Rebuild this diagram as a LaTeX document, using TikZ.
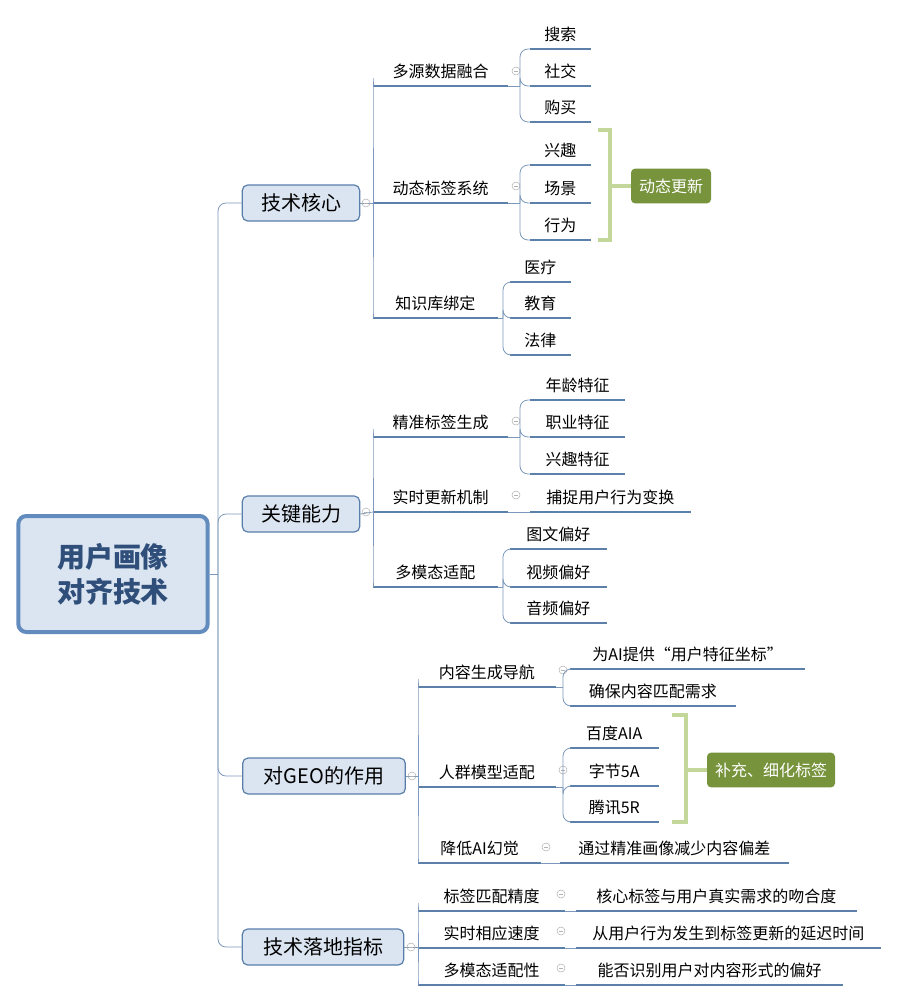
\documentclass[tikz,border=0pt]{standalone}
\usepackage{fontspec}
\setmainfont{Noto Sans CJK SC}
\usetikzlibrary{calc,positioning}
\definecolor{linie}{RGB}{91,128,170}
\definecolor{kasten}{RGB}{219,229,241}
\definecolor{rand}{RGB}{99,140,190}
\definecolor{titel}{RGB}{47,79,122}
\definecolor{klammer}{RGB}{196,215,155}
\definecolor{marke}{RGB}{119,147,60}
\tikzset{
  root/.style={draw=rand,line width=3pt,fill=kasten,rounded corners=6pt,minimum width=142pt,minimum height=87pt,align=center,font=\fontsize{21}{26}\selectfont\bfseries,text=titel},
  main/.style={draw=rand!90!black,line width=0.9pt,fill=kasten,rounded corners=4pt,minimum height=27pt,inner xsep=8pt,font=\fontsize{15}{18}\selectfont},
  sub/.style={anchor=south west,minimum width=#1,inner xsep=2.5pt,inner ysep=5pt,font=\fontsize{12}{14}\selectfont,
    append after command={(\tikzlastnode.south west) edge[uline] (\tikzlastnode.south east)}},
  uline/.style={draw=linie,line width=1.6pt},
  link/.style={draw=linie!80,line width=0.6pt,rounded corners=6pt},
  fold/.style={circle,draw=gray!60,inner sep=0pt,minimum size=6pt,
    path picture={\draw[gray!60,line width=0.4pt] ([xshift=-1.5pt]path picture bounding box.center) -- ([xshift=1.5pt]path picture bounding box.center);}},
  tag/.style={fill=marke,text=white,rounded corners=3pt,minimum height=26pt,inner xsep=6pt,font=\fontsize{12}{14}\selectfont},
  brace/.style={draw=klammer,line width=2.6pt},
}
\begin{document}
\begin{tikzpicture}[x=0.75pt,y=-0.75pt]
	\useasboundingbox (0,0) rectangle (906,1001);
	% root and branches
	\node[root] (R) at (113,574) {用户画像\\对齐技术};
	\node[main,minimum width=88pt] (B1) at (301,203) {技术核心};
	\node[main,minimum width=88pt] (B2) at (301,514) {关键能力};
	\node[main,minimum width=122pt] (B3) at (324,776) {对GEO的作用};
	\node[main,minimum width=121pt] (B4) at (323,947) {技术落地指标};
	\coordinate (T) at (218,574);
	\draw[link] (R.east) -- (T);
	\foreach \b in {B1,B2,B3,B4} \draw[link] (T) |- (\b.west);
	% 技术核心
	\node[sub=101pt] (K1) at (373,86) {多源数据融合};
	\node[sub=101pt] (K2) at (373,203) {动态标签系统};
	\node[sub=93pt] (K3) at (373,318) {知识库绑定};
	\coordinate (S1) at (373,203);
	\draw[link] (B1.east) -- (S1);
	\foreach \k in {K1,K3} \draw[link] (S1) |- (\k.south west);
	\node[fold] at (366,203) {};
	\node[fold] at (516,71) {};
	\node[fold] at (516,186) {};
	\node[sub=45pt] (K11) at (530,49) {搜索};
	\node[sub=45pt] (K12) at (530,86) {社交};
	\node[sub=45pt] (K13) at (530,122) {购买};
	\node[sub=45pt] (K21) at (530,165) {兴趣};
	\node[sub=45pt] (K22) at (530,203) {场景};
	\node[sub=45pt] (K23) at (530,240) {行为};
	\node[sub=45pt] (K31) at (510,282) {医疗};
	\node[sub=45pt] (K32) at (510,318) {教育};
	\node[sub=45pt] (K33) at (510,355) {法律};
	\coordinate (S11) at (520,86);
	\coordinate (S12) at (520,203);
	\coordinate (S13) at (503,318);
	\draw[link] (K1.south east) -- (S11);
	\draw[link] (K2.south east) -- (S12);
	\draw[link] (K3.south east) -- (S13);
	\foreach \c in {K11,K12,K13} \draw[link] (S11) |- (\c.south west);
	\foreach \c in {K21,K22,K23} \draw[link] (S12) |- (\c.south west);
	\foreach \c in {K31,K32,K33} \draw[link] (S13) |- (\c.south west);
	\node[tag] (G1) at (671,186) {动态更新};
	\draw[brace] (598,130) -- (610,130) -- (610,240) -- (598,240);
	\draw[brace] (610,186) -- (G1.west);
	% 关键能力
	\node[sub=101pt] (L1) at (373,437) {精准标签生成};
	\node[sub=101pt] (L2) at (373,512) {实时更新机制};
	\node[sub=93pt] (L3) at (373,587) {多模态适配};
	\coordinate (S2) at (373,512);
	\draw[link] (B2.east) -- (S2);
	\foreach \k in {L1,L3} \draw[link] (S2) |- (\k.south west);
	\node[fold] at (366,512) {};
	\node[fold] at (516,421) {};
	\node[fold] at (516,495) {};
	\node[sub=71pt] (L11) at (530,400) {年龄特征};
	\node[sub=71pt] (L12) at (530,437) {职业特征};
	\node[sub=71pt] (L13) at (530,474) {兴趣特征};
	\node[sub=120pt] (L21) at (530,512) {捕捉用户行为变换};
	\node[sub=72pt] (L31) at (510,549) {图文偏好};
	\node[sub=72pt] (L32) at (510,587) {视频偏好};
	\node[sub=72pt] (L33) at (510,623) {音频偏好};
	\coordinate (S21) at (520,437);
	\coordinate (S23) at (503,587);
	\draw[link] (L1.south east) -- (S21);
	\draw[link] (L2.south east) -- (L21.south west);
	\draw[link] (L3.south east) -- (S23);
	\foreach \c in {L11,L12,L13} \draw[link] (S21) |- (\c.south west);
	\foreach \c in {L31,L32,L33} \draw[link] (S23) |- (\c.south west);
	% 对GEO的作用
	\node[sub=103pt] (M1) at (418,687) {内容生成导航};
	\node[sub=103pt] (M2) at (418,787) {人群模型适配};
	\node[sub=92pt] (M3) at (418,863) {降低AI幻觉};
	\coordinate (S3) at (418,776);
	\draw[link] (B3.east) -- (S3);
	\foreach \k in {M1,M2,M3} \draw[link] (S3) |- (\k.south west);
	\node[fold] at (412,776) {};
	\node[fold] at (563,670) {};
	\node[fold] at (563,770) {};
	\node[fold] at (546,847) {};
	\node[sub=176pt] (M11) at (570,669) {为AI提供“用户特征坐标”};
	\node[sub=124pt] (M12) at (570,706) {确保内容匹配需求};
	\node[sub=66pt] (M21) at (570,748) {百度AIA};
	\node[sub=66pt] (M22) at (570,786) {字节5A};
	\node[sub=66pt] (M23) at (570,822) {腾讯5R};
	\node[sub=171pt] (M31) at (560,863) {通过精准画像减少内容偏差};
	\coordinate (S31) at (563,687);
	\coordinate (S32) at (563,787);
	\draw[link] (M1.south east) -- (S31);
	\draw[link] (M2.south east) -- (S32);
	\draw[link] (M3.south east) -- (M31.south west);
	\foreach \c in {M11,M12} \draw[link] (S31) |- (\c.south west);
	\foreach \c in {M21,M22,M23} \draw[link] (S32) |- (\c.south west);
	\node[tag] (G2) at (771,770) {补充、细化标签};
	\draw[brace] (672,715) -- (686,715) -- (686,822) -- (672,822);
	\draw[brace] (686,770) -- (G2.west);
	% 技术落地指标
	\node[sub=110pt] (N1) at (418,911) {标签匹配精度};
	\node[sub=110pt] (N2) at (418,948) {实时相应速度};
	\node[sub=110pt] (N3) at (418,985) {多模态适配性};
	\coordinate (S4) at (418,947);
	\draw[link] (B4.east) -- (S4);
	\foreach \k in {N1,N3} \draw[link] (S4) |- (\k.south west);
	\node[fold] at (411,947) {};
	\node[sub=210pt] (N11) at (576,911) {核心标签与用户真实需求的吻合度};
	\node[sub=228pt] (N21) at (576,948) {从用户行为发生到标签更新的延迟时间};
	\node[sub=200pt] (N31) at (576,985) {能否识别用户对内容形式的偏好};
	\draw[link] (N1.south east) -- (N11.south west);
	\draw[link] (N2.south east) -- (N21.south west);
	\draw[link] (N3.south east) -- (N31.south west);
	\node[fold] at (561,894) {};
	\node[fold] at (561,931) {};
	\node[fold] at (561,968) {};
\end{tikzpicture}
\end{document}
